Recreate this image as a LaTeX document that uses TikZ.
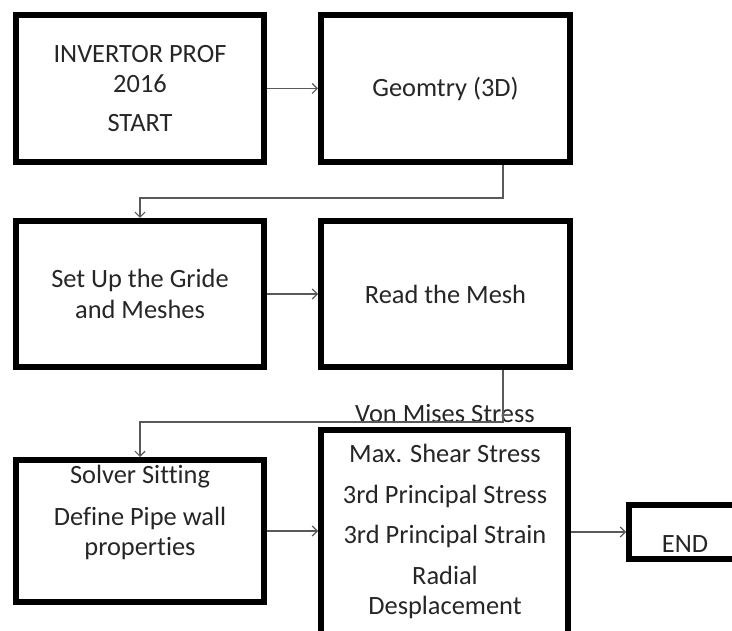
\documentclass[tikz,border=0pt]{standalone}
\usepackage{fontspec}
\setmainfont{Carlito}[Ligatures=NoCommon]
\usetikzlibrary{arrows.meta,positioning,shadows}
\definecolor{linegray}{RGB}{89,89,89}
\definecolor{textgray}{RGB}{38,38,38}

\begin{document}
\begin{tikzpicture}[x=1pt, y=-1pt,
    stage/.style={rectangle, draw=black, line width=6pt, fill=white, minimum width=248pt, inner sep=0pt, align=center, text=textgray, font=\fontsize{26.4}{30.5}\selectfont, drop shadow={shadow xshift=1.5pt, shadow yshift=-2pt, fill=black, opacity=0.15}},
    txt/.style={align=center, inner sep=0pt, text=textgray, font=\fontsize{26.4}{30.5}\selectfont},
    arr/.style={-{Straight Barb[length=5pt, width=10pt]}, line width=1.2pt, linegray}
]
    \clip (0,0) rectangle (732,631);

    % Top row
    \node[stage, minimum height=147pt] (start) at (140,88.5) {INVERTOR PROF\\2016\\[8.5pt]START};
    \node[stage, minimum width=249pt, minimum height=147pt] (geom) at (445.5,88.5) {Geomtry (3D)};

    % Middle row
    \node[stage, minimum height=146pt] (grid) at (140,294) {Set Up the Gride\\and Meshes};
    \node[stage, minimum width=249pt, minimum height=146pt] (mesh) at (445.5,294) {Read the Mesh};

    % Bottom row
    \node[stage, minimum height=142pt] (solver) at (140,531) {};
    \node[txt, anchor=north] (solvertxt) at (140,465) {Solver Sitting\\[11pt]Define Pipe wall\\properties};
    \node[stage, minimum width=247pt, minimum height=230pt] (results) at (444.5,545) {};
    \node[txt, anchor=north] (resultstxt) at (445,404) {Von Mises Stress\\[10pt]Max. Shear Stress\\[10pt]3rd Principal Stress\\[10pt]3rd Principal Strain\\[10pt]Radial\\Desplacement};
    \node[stage, minimum width=112pt, minimum height=54pt] (finish) at (685,532) {};
    \node[txt, anchor=base] (finishtxt) at (685,552) {END};

    % Connectors
    \draw[arr] (start) -- (geom);
    \draw[arr] (grid) -- (mesh);
    \draw[arr] (solver.east) -- (solver.east -| results.west);
    \draw[arr] (results.east |- finish.west) -- (finish.west);

    \coordinate (bend1) at (503,198);
    \draw[arr] (geom.south -| bend1) -- (bend1) -| (grid.north);
    \coordinate (bend2) at (503,422);
    \draw[arr] (mesh.south -| bend2) -- (bend2) -| (solver.north);
\end{tikzpicture}
\end{document}
